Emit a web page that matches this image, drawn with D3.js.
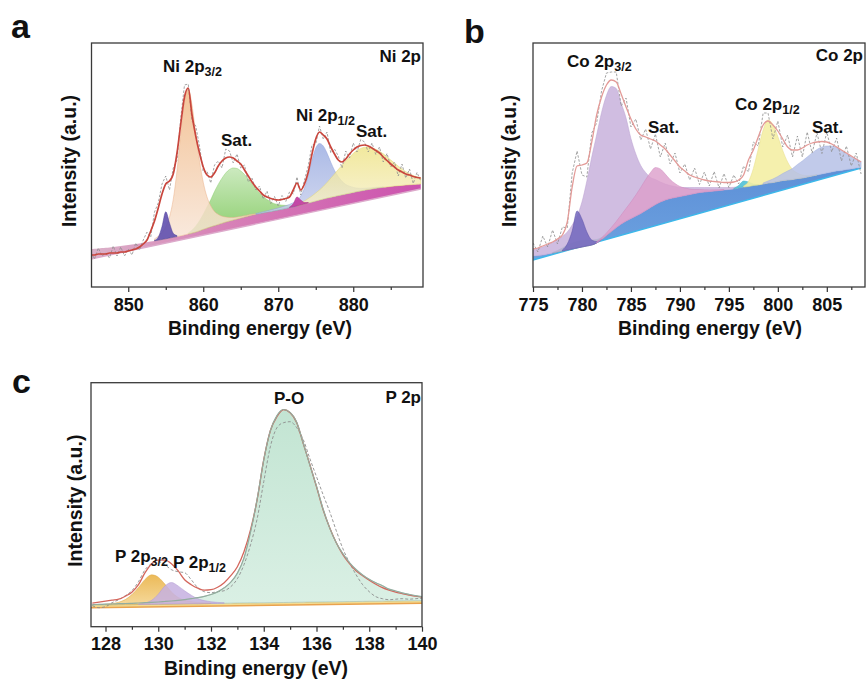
<!DOCTYPE html>
<html>
<head>
<meta charset="utf-8">
<script src="https://cdn.jsdelivr.net/npm/d3@7"></script>
<style>
  body { margin: 0; background: #fff; }
  svg text { font-family: "Liberation Sans", Arial, "DejaVu Sans", sans-serif; font-weight: bold; fill: #111; }
</style>
</head>
<body>
<svg id="fig" width="866" height="684"></svg>
<script>
// ---------------- Ni 2p (panel a): binding energy grid 845–889 eV, step 0.5 ----------------
const niGrid = { start: 845, step: 0.5 };
const niTicks = [850, 860, 870, 880];
const niMinorTicks = [855, 865, 875, 885];
const niBackground = [38,38.3,38.6,38.9,39.2,39.6,40,40.5,41,41.5,
  42,42.5,43,43.5,44,44.7,45.4,46.1,46.8,47.5,
  48.2,49,49.7,50.4,51.1,52,53,54,55,56.3,
  57.7,59,60.2,61.4,62.6,63.8,65,66,67,68,
  69,70,71,72,72.8,73.5,74.2,74.9,75.6,76.3,
  77,77.8,78.6,79.4,80.2,81,82,83,84,85,
  86,87,88,88.9,89.8,90.6,91.4,92.2,93,93.8,
  94.6,95.4,96.1,96.8,97.5,98.1,98.7,99.2,99.7,100.1,
  100.5,100.9,101.3,101.6,101.9,102.2,102.5,102.8,103.1];
const niLinearBase = [[845, 28], [889, 98]];
const niEnvelope = [32,32,33,33,33,34,34,34,35,35,
  36,37,38,40,43,47,56,66,79,93,
  103,106,113,134,163,190,199,172,151,134,
  120,112,110,114,121,126,129,130,129,126,
  123,117,111,105,100,96,92,90,88.5,87.5,
  87,87.5,88.5,90,97,104,97,103,115,133,
  148,155,152,148,140,133,127,125,128,133,
  137,140,141.5,142,141,139,136.5,134,130,126.5,
  123,120,117,115,113,112,110.5,109.5,109];
const niRaw = [35,28,39,31,34,29,41,31,40,31,
  38,32,44,37,47,55,50,75,84,103,
  111,97,119,127,169,202,203,166,161,141,
  115,116,104,122,126,119,138,136,124,133,
  119,122,105,109,97,101,88,96,83.5,90.5,
  81,91.5,85.5,95,93,110,92,107,121,142,
  143,161,148,155,134,138,131,119,136,129,
  144,135,147.5,145,135,144,132.5,140,125,133.5,
  120,125,111,123,109,118,103.5,114.5,106];
// fitted components: heights above the background, starting at "from" (eV)
const niPeak855 = { from: 853.5, h: [0.5,3,13,27,15,4,1] };
const ni2p32 = { from: 853.5, h: [2,4,7,12,21,38,66,103,134,145,128,98,70,47,31,21,14,10,7,5,3.5,2.5,2,1.5,1.2,1,0.7,0.5] };
const niSat32 = { from: 858, h: [1,3,6,10,15,21,27,34,40,45,49,51.5,52,50.5,47,42.5,37,31,25.5,20.5,16,12.5,9.5,7,5.5,4,3,2,1.5,1,0.5] };
const niPeak872 = { from: 871.5, h: [0.5,3,9,5,1.5,0.5] };
const ni2p12 = { from: 867, h: [0.5,0.8,1,1.2,1.5,1.7,2,2.3,2.7,3.2,4,5.5,9,16,28,42,53,56.5,53,45,35,26,19,13.5,9.5,7,5,3.5,2.5,2,1.5,1.2,1,0.7,0.5] };
const niSat12 = { from: 872.5, h: [1,2,3,4.5,6,8,10,12.5,15.5,19,22.5,26,29.5,33,36,39,41,42.5,43,42.5,41,39,36.5,33.5,30,26.5,23,19.5,16.5,13.5,11,9,7.5,6] };

// ---------------- Co 2p (panel b): grid 775–808.5 eV, step 0.5 ----------------
const coGrid = { start: 775, step: 0.5 };
const coTicks = [775, 780, 785, 790, 795, 800, 805];
const coMinorTicks = [777.5, 782.5, 787.5, 792.5, 797.5, 802.5, 807.5];
const coBackground = [31,31.5,32,33,34,35,36,37,38,39,
  40,41,42,44,47.5,51.5,55.5,59.5,63,66,
  68.5,71,73.5,76.5,79.5,82.5,85,87,88.5,89.5,
  90.5,91.5,92.5,93.5,94.5,95,95.5,96,96.5,97,
  97.5,98,99,100,100.5,101.5,102,103,104,104.5,
  105.5,106.5,107,107.5,108.5,109,110,111,112,113,
  114,115,116,116.5,117.5,118,119,119.5];
const coLinearBase = [[775, 27], [808.5, 119]];
const coEnvelope = [38,39,41,43,45,48,52,65,100,121,
  122,124,145,172,190,202,207,205,193,180,
  168,158,152,150,148,146,142,138,132,126,
  120,116,112,110,108.5,107,106,105.5,105,104.5,
  104.5,105,107,112,127,137,150,162,166,162,
  156,148,140,137,137,139,142,144,145,145.5,
  145,143,140,137,134,131,128,125];
const coRaw = [44,35,51,40,57,43,60,59,114,136,
  112,110,154,164,196,214,215,215,181,189,
  160,168,147,158,138,153,130,144,123,134,
  114,123,107,119,102.5,115,101,115.5,99,113.5,
  99.5,112,103,121,115,145,141,174,174,148,
  166,140,152,130,151,130,155,134,154,133.5,
  155,135,149,126,141,121,134,113];
const coPeak778 = { from: 777, h: [0.5,1.5,3,5,6,6.5,6.5,6,5,3.5,2,1,0.5] };
const coPeak780 = { from: 778, h: [1,6,18,37,28,14,5,1.5,0.5] };
const co2p32 = { from: 775, h: [6,7,8,9,10.5,12,14.5,18,24,32,45,65,88,108,127,140,145,139,121,103,80,62,48,38,30,25,20,16,13,11,9,8,7,6,5,4.5,4,3.5,3,2.5,2,1.7,1.5,1.2,1,0.7,0.5] };
const coSat32 = { from: 781.5, h: [1,1.5,2.5,4,6,9,12.5,16.5,21,26,31,35,37,33,26,19,14,10,7.5,5.5,4,3,2.2,1.6,1.2,0.8,0.5] };
const coPeak797 = { from: 795.5, h: [0.5,2.5,6,4.5,1.5,0.4] };
const co2p12 = { from: 796.5, h: [1,5,17,36,54,63,58,45,30,18,10,5.5,3,1.5,0.8,0.4] };
const coSat12 = { from: 798.5, h: [1,2,3.5,5,7,9,11,14,17,20,23,25.5,27,27,26,23.5,20,16,12,9,6] };

// ---------------- P 2p (panel c): grid 127.5–140 eV, step 0.25 ----------------
const pGrid = { start: 127.5, step: 0.25 };
const pTicks = [128, 130, 132, 134, 136, 138, 140];
const pMinorTicks = [129, 131, 133, 135, 137, 139];
const pBackground = [21.6,21.7,21.8,21.9,22.0,22.1,22.1,22.2,22.3,22.4,
  22.5,22.6,22.7,22.8,22.9,23.0,23.0,23.1,23.2,23.3,
  23.4,23.5,23.6,23.7,23.8,23.8,23.9,24.0,24.1,24.2,
  24.3,24.4,24.5,24.6,24.6,24.7,24.8,24.9,25.0,25.1,
  25.2,25.3,25.4,25.4,25.5,25.6,25.7,25.8,25.9,26.0,26.0];
const pLinearBase = [[127.45, 19], [140, 23.5]];
const pEnvelope = [23.5,24.5,25.5,26.5,27.5,30.5,34.5,42,54,63,
  66.5,66.5,63,56,47,42,38.5,36.5,37,39.5,
  44,51,60,75,97,127,167,196,210,217,
  214,204,183,162,140,117,99,84,72,63,
  56,51,46.5,42.5,39,36.5,34.5,33,31.5,30.5,29.5];
const pRaw = [21,19,20,24,27,31,36,45,57,63,
  65,62,57,55,54,47,39,35,34,35,
  36,40,48,62,82,108,145,180,199,204,
  205,199,187,168,150,132,115,96,78,64,
  52,42,35,30,28,27,27.5,28,27.5,28,28.5];
const pOxide = { from: 127.5, h: [0.5,0.6,0.7,0.8,1,1.1,1.3,1.5,1.7,1.9,
  2.2,2.6,3,3.5,4.2,5,6,7.3,9,11.5,
  15.5,21,30,45,71,104,143,172,187,193,
  190,180,159,137,116,93,74,59,48,39,
  32,26.5,22,18.5,15.5,12,10,8,6.5,5,4] };
const p2p32 = { from: 128, h: [0.5,1.2,2.5,5,10,17,25,29.5,27,20,12,6.5,3.5,2,1.2,0.7,0.4] };
const p2p12 = { from: 129.25, h: [0.5,1.5,4,10,18,21.5,18,13,8.5,5,3,1.7,1,0.5] };

// ---------------- drawing ----------------
const svg = d3.select('#fig');
const defs = svg.append('defs');

function gradient(id, c1, c2, horizontal) {
  const gr = defs.append('linearGradient').attr('id', id)
    .attr('x1', 0).attr('y1', 0).attr('x2', horizontal ? 1 : 0).attr('y2', horizontal ? 0 : 1);
  gr.append('stop').attr('offset', '0%').attr('stop-color', c1);
  gr.append('stop').attr('offset', '100%').attr('stop-color', c2);
  return `url(#${id})`;
}

function makePanel(o) {
  const x = d3.scaleLinear().domain(o.xDomain).range([o.left, o.right]);
  const y = d3.scaleLinear().domain([0, 244]).range([o.bottom, o.top]);
  const g = svg.append('g');
  const clipId = 'clip-' + o.id;
  defs.append('clipPath').attr('id', clipId).append('rect')
    .attr('x', o.left).attr('y', o.top).attr('width', o.right - o.left).attr('height', o.bottom - o.top);
  const plot = g.append('g').attr('clip-path', `url(#${clipId})`);
  return { x, y, g, plot, o };
}

const energyAt = (grid, i) => grid.start + i * grid.step;

function drawBand(P, grid, top, low, fill, edge) {
  const pts = top.map((v, i) => [energyAt(grid, i), v]);
  const line = d3.line().x(d => P.x(d[0])).y(d => P.y(d[1])).curve(d3.curveMonotoneX);
  const path = line(pts) + low.slice().reverse().map(p => `L${P.x(p[0])},${P.y(p[1])}`).join('') + 'Z';
  P.plot.append('path').attr('d', path).attr('fill', fill).attr('stroke', 'none');
  P.plot.append('path').attr('d', d3.line().x(d => P.x(d[0])).y(d => P.y(d[1]))(low))
    .attr('fill', 'none').attr('stroke', edge).attr('stroke-width', 1.4);
}

function componentPoints(grid, base, comp) {
  const i0 = Math.round((comp.from - grid.start) / grid.step);
  return comp.h.map((h, k) => [energyAt(grid, i0 + k), base[i0 + k], base[i0 + k] + h]);
}

function drawComponent(P, grid, base, comp, fill, stroke, opacity) {
  const pts = componentPoints(grid, base, comp);
  const area = d3.area().x(d => P.x(d[0])).y0(d => P.y(d[1])).y1(d => P.y(d[2])).curve(d3.curveMonotoneX);
  P.plot.append('path').attr('d', area(pts))
    .attr('fill', fill).attr('fill-opacity', opacity)
    .attr('stroke', stroke).attr('stroke-width', 0.7).attr('stroke-opacity', 0.7);
}

// outline along the top of one fitted component only
function drawComponentTop(P, grid, base, comp, stroke, width) {
  const pts = componentPoints(grid, base, comp);
  const line = d3.line().x(d => P.x(d[0])).y(d => P.y(d[2])).curve(d3.curveMonotoneX);
  P.plot.append('path').attr('d', line(pts)).attr('fill', 'none')
    .attr('stroke', stroke).attr('stroke-width', width);
}

function drawSeries(P, grid, vals, color, width, dash, curve) {
  const pts = vals.map((v, i) => [energyAt(grid, i), v]);
  const line = d3.line().x(d => P.x(d[0])).y(d => P.y(d[1])).curve(curve || d3.curveMonotoneX);
  const p = P.plot.append('path').attr('d', line(pts)).attr('fill', 'none')
    .attr('stroke', color).attr('stroke-width', width).attr('stroke-linejoin', 'round');
  if (dash) p.attr('stroke-dasharray', dash);
}

function drawFrame(P, major, minor, xTitle, letter, letterPos, yTitleX, xTitleX) {
  const o = P.o;
  const axMajor = P.g.append('g').attr('transform', `translate(0,${o.bottom})`)
    .call(d3.axisBottom(P.x).tickValues(major).tickSize(5).tickSizeOuter(0).tickPadding(6).tickFormat(d3.format('d')));
  const axMinor = P.g.append('g').attr('transform', `translate(0,${o.bottom})`)
    .call(d3.axisBottom(P.x).tickValues(minor).tickSize(3).tickSizeOuter(0).tickFormat(''));
  [axMajor, axMinor].forEach(a => {
    a.select('.domain').remove();
    a.selectAll('line').attr('stroke', '#333').attr('stroke-width', 1.2);
  });
  axMajor.selectAll('text').attr('font-size', 18).attr('fill', '#111');
  P.g.append('rect').attr('x', o.left).attr('y', o.top)
    .attr('width', o.right - o.left).attr('height', o.bottom - o.top)
    .attr('fill', 'none').attr('stroke', '#3a3a3a').attr('stroke-width', 1.3);
  P.g.append('text').attr('x', xTitleX).attr('y', o.bottom + 48).attr('text-anchor', 'middle')
    .attr('font-size', 19.5).text(xTitle);
  P.g.append('text').attr('transform', `translate(${yTitleX},${(o.top + o.bottom) / 2 - 4}) rotate(-90)`)
    .attr('text-anchor', 'middle').attr('font-size', 19.5).text('Intensity (a.u.)');
  P.g.append('text').attr('x', letterPos[0]).attr('y', letterPos[1]).attr('font-size', 34).text(letter);
}

function label(P, xPos, yPos, main, sub, anchor) {
  const t = P.g.append('text').attr('x', xPos).attr('y', yPos).attr('font-size', 17)
    .attr('text-anchor', anchor || 'start');
  t.append('tspan').text(main);
  if (sub) t.append('tspan').attr('font-size', 12.5).attr('dy', 4).text(sub);
}

// ----- panel a: Ni 2p -----
const A = makePanel({ id: 'a', xDomain: [845.1, 889.3], left: 91.5, right: 423, top: 43, bottom: 287 });
const bandA = defs.append('linearGradient').attr('id', 'bandA').attr('gradientUnits', 'userSpaceOnUse')
  .attr('x1', 91).attr('x2', 423).attr('y1', 0).attr('y2', 0);
bandA.append('stop').attr('offset', '0%').attr('stop-color', '#dbb2c9');
bandA.append('stop').attr('offset', '35%').attr('stop-color', '#d886b8');
bandA.append('stop').attr('offset', '100%').attr('stop-color', '#cc52ae');
drawBand(A, niGrid, niBackground, niLinearBase, 'url(#bandA)', '#dcaacb');
drawComponent(A, niGrid, niBackground, niSat32, gradient('gGreen', '#c6e7b8', '#80c95e'), '#8ccf70', 0.9);
drawComponent(A, niGrid, niBackground, ni2p32, gradient('gOrange', '#f1b986', '#f8e6d8'), '#eab28a', 0.85);
drawComponent(A, niGrid, niBackground, niPeak855, '#5f4fae', '#4d3f9a', 0.9);
drawComponent(A, niGrid, niBackground, ni2p12, gradient('gBlueA', '#9caee2', '#c9d0ec'), '#8fa0d8', 0.85);
drawComponent(A, niGrid, niBackground, niSat12, gradient('gYellowA', '#eee385', '#f6efc8'), '#e2d770', 0.8);
drawComponent(A, niGrid, niBackground, niPeak872, '#c2389e', '#a82c88', 0.9);
drawSeries(A, niGrid, niRaw, '#8d8d8d', 0.8, '2.5,1.6', d3.curveLinear);
drawSeries(A, niGrid, niEnvelope, '#c9463d', 1.7);
drawFrame(A, niTicks, niMinorTicks, 'Binding energy (eV)', 'a', [11, 38], 76, 260);
label(A, 163, 72, 'Ni 2p', '3/2');
label(A, 221, 146, 'Sat.');
label(A, 296, 121, 'Ni 2p', '1/2');
label(A, 356, 137, 'Sat.');
label(A, 421, 62, 'Ni 2p', null, 'end');

// ----- panel b: Co 2p -----
const B = makePanel({ id: 'b', xDomain: [775, 808.9], left: 533, right: 865, top: 43, bottom: 287 });
drawBand(B, coGrid, coBackground, coLinearBase, gradient('gBlueB', '#5d8fd7', '#6da3e0'), '#3cb8ea');
drawComponent(B, coGrid, coBackground, coPeak778, '#56c08e', '#45a87a', 0.95);
drawComponent(B, coGrid, coBackground, co2p32, '#c8b2dc', '#b9a0d0', 0.85);
drawComponent(B, coGrid, coBackground, coPeak780, '#7267bd', '#5d52a8', 0.85);
drawComponent(B, coGrid, coBackground, coSat32, '#dc9dcb', '#cf88bd', 0.8);
drawComponent(B, coGrid, coBackground, coPeak797, '#57c4d8', '#3fb0c6', 0.95);
drawComponent(B, coGrid, coBackground, co2p12, '#f4eea4', '#e6dd86', 0.9);
drawComponent(B, coGrid, coBackground, coSat12, '#b6c1e6', '#a2b0de', 0.85);
drawSeries(B, coGrid, coRaw, '#8d8d8d', 0.8, '2.5,1.6', d3.curveLinear);
drawSeries(B, coGrid, coEnvelope, '#e39a97', 1.3);
drawFrame(B, coTicks, coMinorTicks, 'Binding energy (eV)', 'b', [464, 43], 516, 710);
label(B, 567, 67, 'Co 2p', '3/2');
label(B, 648, 133, 'Sat.');
label(B, 735, 110, 'Co 2p', '1/2');
label(B, 812, 133, 'Sat.');
label(B, 863, 61, 'Co 2p', null, 'end');

// ----- panel c: P 2p -----
const C = makePanel({ id: 'c', xDomain: [127.45, 140], left: 91, right: 422, top: 382.7, bottom: 626.7 });
drawBand(C, pGrid, pBackground, pLinearBase, '#f3dc92', '#e9a24e');
drawComponent(C, pGrid, pBackground, pOxide, gradient('gMint', '#bfe3d0', '#d8efe3'), '#8fae9d', 0.95);
drawComponent(C, pGrid, pBackground, p2p32, gradient('gGold', '#eab44a', '#f4d592'), '#dca640', 0.92);
drawComponent(C, pGrid, pBackground, p2p12, '#c5b0e0', '#b09ad2', 0.85);
drawSeries(C, pGrid, pRaw, '#8d8d8d', 0.9, '3,2', d3.curveMonotoneX);
drawSeries(C, pGrid, pEnvelope, '#d4665c', 1.3);
drawComponentTop(C, pGrid, pBackground, pOxide, '#93ad9f', 1.2);
drawFrame(C, pTicks, pMinorTicks, 'Binding energy (eV)', 'c', [12, 393], 82, 256);
label(C, 274, 404, 'P-O');
label(C, 421, 403, 'P 2p', null, 'end');
label(C, 115, 562, 'P 2p', '3/2');
label(C, 173, 568, 'P 2p', '1/2');
</script>
</body>
</html>
